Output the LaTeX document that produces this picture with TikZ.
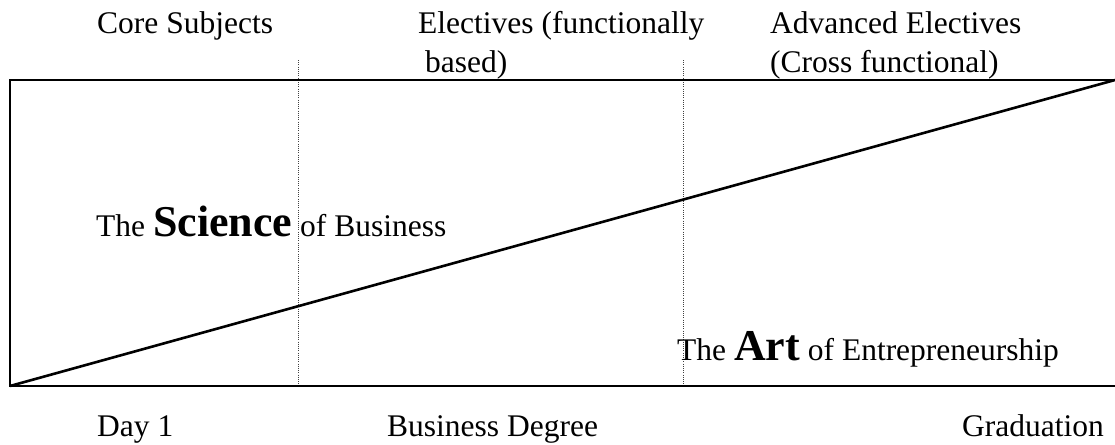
\documentclass[tikz,border=0pt]{standalone}
\usepackage{fontspec}
\setmainfont{Liberation Serif}
\begin{document}
\begin{tikzpicture}[x=1pt,y=-1pt,
  lbl/.style={anchor=base west, inner sep=0pt, font=\fontsize{31.5}{38}\selectfont},
  frame/.style={draw=black, line width=2.6pt, line join=miter},
  divider/.style={draw=black!75, line width=0.9pt, dash pattern=on 0.9pt off 1.3pt}]
\newcommand{\bigword}[1]{{\fontsize{44}{50}\selectfont\bfseries #1}}
\useasboundingbox (0,0) rectangle (1115,444);

% frame corners and the rising line
\coordinate (tl) at (10,80);
\coordinate (bl) at (10,386);
\coordinate (tr) at (1125,80);
\coordinate (br) at (1125,386);
\coordinate (peak) at (1115,80);

% phase dividers
\coordinate (d1top) at (298,60);
\coordinate (d1bot) at (298,386);
\coordinate (d2top) at (683,60);
\coordinate (d2bot) at (683,386);
\draw[divider] (d1top) -- (d1bot);
\draw[divider] (d2top) -- (d2bot);

\draw[frame] (tr) -- (tl) -- (bl) -- (br);
\draw[frame] (bl) -- (peak);

% phase headings
\node[lbl] (core) at (97,34) {Core Subjects};
\node[lbl] (elec1) at (418,34) {Electives (functionally};
\node[lbl] (elec2) at (425,72) {based)};
\node[lbl] (adv1) at (770,34) {Advanced Electives};
\node[lbl] (adv2) at (770,72) {(Cross functional)};

% region labels
\node[lbl] (science) at (96,236) {The \bigword{Science} of Business};
\node[lbl] (art) at (677,360) {The \bigword{Art} of Entrepreneurship};

% timeline
\node[lbl] (day) at (97,436) {Day 1};
\node[lbl] (degree) at (387,436) {Business Degree};
\node[lbl] (grad) at (962,436) {Graduation};
\end{tikzpicture}
\end{document}
